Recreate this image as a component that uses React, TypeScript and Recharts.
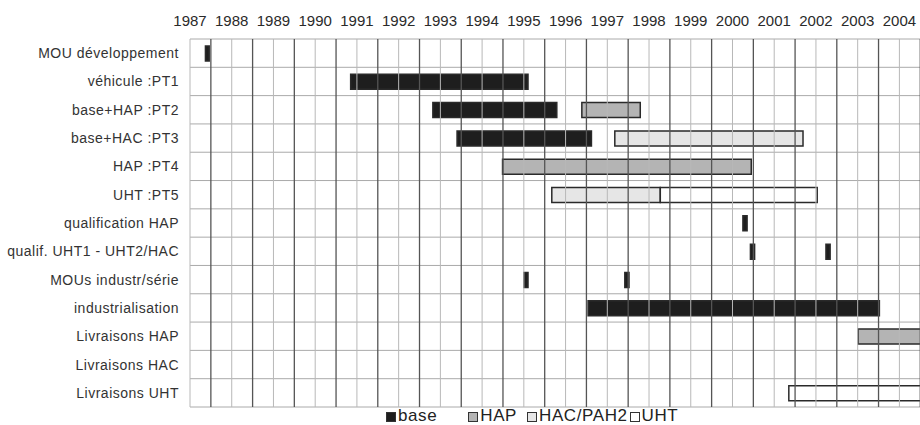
import { BarChart, Bar, XAxis, YAxis, CartesianGrid, ReferenceLine, Legend, Cell } from 'recharts';

const tasks = [
  'MOU développement',
  'véhicule :PT1',
  'base+HAP :PT2',
  'base+HAC :PT3',
  'HAP :PT4',
  'UHT :PT5',
  'qualification HAP',
  'qualif. UHT1 - UHT2/HAC',
  'MOUs industr/série',
  'industrialisation',
  'Livraisons HAP',
  'Livraisons HAC',
  'Livraisons UHT',
];

// first phase of each row (start year, end year, kind)
const firstStart = [1987.37, 1990.85, 1992.82, 1993.4, 1994.49, 1995.67, 2000.25, 2000.43, 1995.0, 1996.54, 2003.01, null, 2001.35];
const firstEnd = [1987.46, 1995.1, 1995.79, 1996.62, 2000.45, 1998.27, 2000.35, 2000.53, 1995.1, 2003.52, 2006, null, 2006];
const firstKind = ['base', 'base', 'base', 'base', 'HAP', 'HAC', 'base', 'base', 'base', 'base', 'HAP', null, 'UHT'];

// second phase, where there is one
const secondStart = [null, null, 1996.39, 1997.18, null, 1998.27, null, 2002.24, 1997.42, null, null, null, null];
const secondEnd = [null, null, 1997.79, 2001.69, null, 2002.03, null, 2002.34, 1997.52, null, null, null, null];
const secondKind = [null, null, 'HAP', 'HAC', null, 'UHT', null, 'base', 'base', null, null, null, null];

const years = [1987, 1988, 1989, 1990, 1991, 1992, 1993, 1994, 1995, 1996, 1997, 1998, 1999, 2000, 2001, 2002, 2003, 2004];

const legendKeys = ['base', 'HAP', 'HAC', 'UHT'];
const legendNames = ['base', 'HAP', 'HAC/PAH2', 'UHT'];

const kindColors: Record<string, string> = {
  base: '#1e1e1e',
  HAP: '#b4b4b4',
  HAC: '#e6e6e6',
  UHT: '#ffffff',
};

const FONT = '"Liberation Sans", Arial, Helvetica, sans-serif';
const BAR = 15;

const data = tasks.map((task, i) => {
  const s1 = firstStart[i];
  const e1 = firstEnd[i];
  const s2 = secondStart[i];
  const e2 = secondEnd[i];
  return {
    task,
    gap1: s1 ?? 0,
    phase1: s1 != null && e1 != null ? e1 - s1 : 0,
    gap2: s2 != null && e1 != null ? s2 - e1 : 0,
    phase2: s2 != null && e2 != null ? e2 - s2 : 0,
  };
});

const legendGaps = [0, 31, 10, 2];

function GanttLegend() {
  return (
    <div
      style={{
        height: 18,
        display: 'flex',
        alignItems: 'flex-end',
        paddingLeft: 386,
        fontFamily: FONT,
        fontSize: 17,
        letterSpacing: 0.6,
        color: '#222',
        lineHeight: '18px',
      }}
    >
      {legendKeys.map((k, i) => (
        <div key={k} style={{ display: 'flex', alignItems: 'center', marginLeft: legendGaps[i] }}>
          <span
            style={{
              display: 'inline-block',
              width: 8,
              height: 8,
              background: kindColors[k],
              border: '1.5px solid #333',
              marginRight: 2,
              marginTop: 2,
            }}
          />
          <span>{legendNames[i]}</span>
        </div>
      ))}
    </div>
  );
}

export default function App() {
  const rowLines = ({ offset }: any) =>
    tasks.concat(['']).map((_t, i) => offset.top + (i * offset.height) / tasks.length);

  return (
    <div
      style={{
        position: 'fixed',
        left: 0,
        top: 0,
        width: 920,
        height: 425,
        overflow: 'hidden',
        background: '#fff',
      }}
    >
      <BarChart
        layout="vertical"
        width={962}
        height={425}
        data={data}
        margin={{ top: 0, right: 0, bottom: 0, left: 0 }}
      >
        <CartesianGrid
          vertical={false}
          stroke="#aaa"
          horizontalCoordinatesGenerator={rowLines}
        />
        <XAxis
          type="number"
          orientation="top"
          domain={[1987, 2005.5]}
          ticks={years}
          interval={0}
          allowDataOverflow
          height={39}
          tickSize={0}
          tickMargin={13}
          axisLine={false}
          tick={{ fill: '#2a2a2a', fontSize: 15, fontFamily: FONT }}
        />
        <YAxis
          type="category"
          dataKey="task"
          width={190}
          interval={0}
          tickSize={0}
          tickMargin={11}
          axisLine={false}
          tick={{ fill: '#333', fontSize: 14, fontFamily: FONT, letterSpacing: 0.5 }}
        />
        {years.map((y) => (
          <ReferenceLine key={'y' + y} x={y} stroke="#b8b8b8" strokeWidth={1} />
        ))}
        {years.map((y) => (
          <ReferenceLine key={'h' + y} x={y + 0.5} stroke="#555" strokeWidth={1.3} />
        ))}
        <Bar dataKey="gap1" stackId="g" barSize={BAR} fill="transparent" isAnimationActive={false} />
        <Bar dataKey="phase1" stackId="g" barSize={BAR} stroke="#2a2a2a" strokeWidth={1.5} isAnimationActive={false}>
          {data.map((_d, i) => (
            <Cell key={i} fill={kindColors[firstKind[i] ?? 'UHT']} strokeOpacity={firstKind[i] ? 1 : 0} />
          ))}
        </Bar>
        <Bar dataKey="gap2" stackId="g" barSize={BAR} fill="transparent" isAnimationActive={false} />
        <Bar dataKey="phase2" stackId="g" barSize={BAR} stroke="#2a2a2a" strokeWidth={1.5} isAnimationActive={false}>
          {data.map((_d, i) => (
            <Cell key={i} fill={kindColors[secondKind[i] ?? 'UHT']} strokeOpacity={secondKind[i] ? 1 : 0} />
          ))}
        </Bar>
        <Legend verticalAlign="bottom" content={() => <GanttLegend />} />
      </BarChart>
    </div>
  );
}
